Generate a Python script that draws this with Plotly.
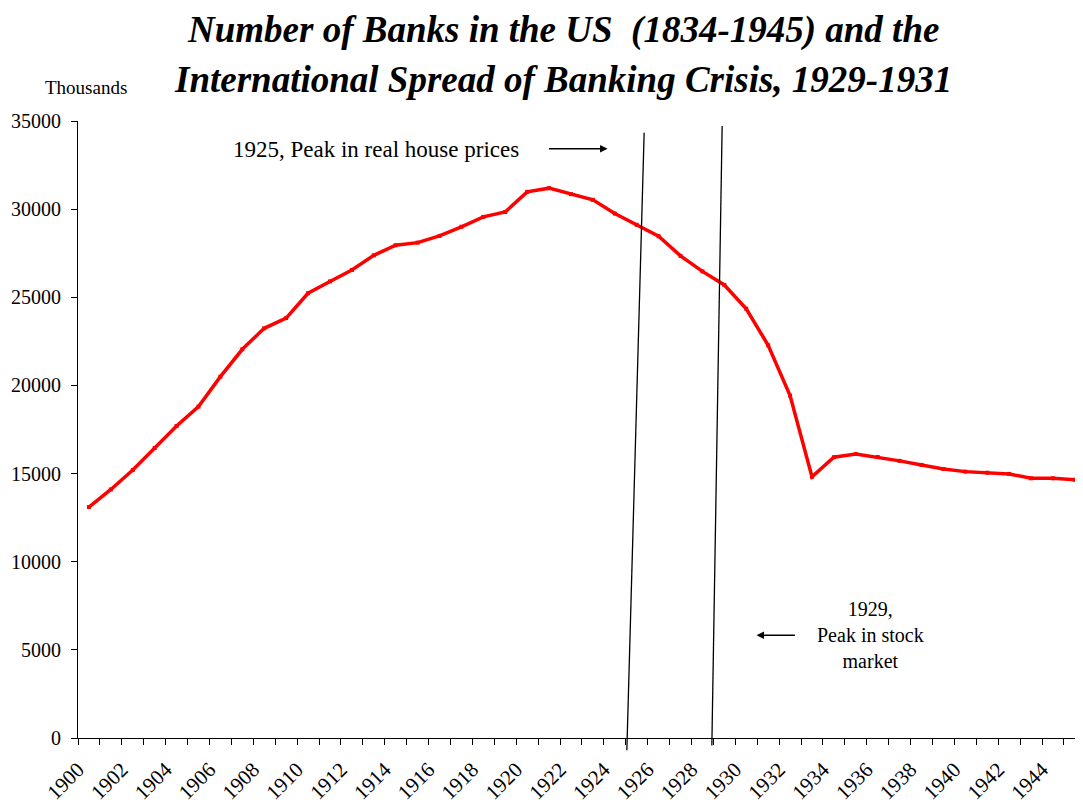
import plotly.graph_objects as go

# --- Data ---
years = list(range(1900, 1946))
banks = [13100, 14100, 15200, 16450, 17700, 18800, 20500, 22050, 23240, 23820,
         25230, 25900, 26550, 27380, 27950, 28100, 28480, 29000, 29560, 29840,
         30980, 31190, 30850, 30530, 29750, 29110, 28460, 27350, 26470, 25700,
         24350, 22280, 19420, 14820, 15930, 16110, 15940, 15720, 15490, 15260,
         15110, 15050, 14980, 14730, 14730, 14650]
label_years = list(range(1900, 1946, 2))
y_ticks = list(range(0, 35001, 5000))

# slanted marker lines: (x top, x bottom) in years, (y top, y bottom) in paper
marker_lines = [((1925.34, 1924.55), (0.981, -0.020)),
                ((1928.90, 1928.43), (0.992, -0.012))]

serif = "Liberation Serif, Times New Roman, serif"

fig = go.Figure(go.Scatter(
    x=years, y=banks, mode="lines+markers",
    line=dict(color="#ff0000", width=3.5),
    marker=dict(symbol="square", size=4, color="#ff0000"),
    showlegend=False, hoverinfo="x+y",
))

for (xt, xb), (yt, yb) in marker_lines:
    fig.add_shape(type="line", xref="x", yref="paper",
                  x0=xt, y0=yt, x1=xb, y1=yb,
                  line=dict(color="black", width=1.3))

fig.add_annotation(x=1913.09, y=33370, text="1925, Peak in real house prices",
                   showarrow=False, font=dict(family=serif, size=23, color="black"))
fig.add_annotation(x=1923.67, y=33430, ax=1920.93, ay=33430,
                   axref="x", ayref="y", text="", showarrow=True,
                   arrowhead=2, arrowsize=1, arrowwidth=1.5, arrowcolor="black")
fig.add_annotation(x=1935.67, y=5827, text="1929,<br>Peak in stock<br>market",
                   showarrow=False, font=dict(family=serif, size=20, color="black"),
                   align="center")
fig.add_annotation(x=1930.47, y=5827, ax=1932.29, ay=5827,
                   axref="x", ayref="y", text="", showarrow=True,
                   arrowhead=2, arrowsize=1, arrowwidth=1.5, arrowcolor="black")

title_font = dict(family=serif, size=37, color="black")
fig.add_annotation(xref="paper", yref="paper", x=0.4826, y=1.1835,
                   text="<b><i>Number of Banks in the US  (1834-1945) and the</i></b>",
                   showarrow=False, font=title_font, xanchor="center", yanchor="top",
                   borderpad=0)
fig.add_annotation(xref="paper", yref="paper", x=0.4826, y=1.067,
                   text="<b><i>International Spread of Banking Crisis, 1929-1931</i></b>",
                   showarrow=False, font=title_font, xanchor="center", yanchor="middle")
fig.add_annotation(xref="paper", yref="paper", x=0.0075, y=1.054,
                   text="Thousands", showarrow=False, xanchor="center", yanchor="middle",
                   font=dict(family=serif, size=19, color="black"))

# page body adds an 8px offset, so the figure is sized/margined to compensate
fig.update_layout(
    width=1075, height=795,
    margin=dict(l=70, r=0, t=113, b=65),
    paper_bgcolor="white", plot_bgcolor="white",
    font=dict(family=serif, color="black"),
    xaxis=dict(
        range=[1899.5, 1945.37], automargin=False,
        tickmode="array", tickvals=[y - 0.5 for y in label_years],
        ticktext=[str(y) for y in label_years],
        tickangle=-45, tickfont=dict(size=21), ticklabelstandoff=10,
        ticks="", showgrid=False, zeroline=False,
        showline=True, linecolor="black", linewidth=1,
        minor=dict(tickmode="linear", tick0=1899.5, dtick=1,
                   ticks="outside", ticklen=6, tickcolor="black", showgrid=False),
    ),
    yaxis=dict(
        range=[0, 35000], automargin=False,
        tickmode="array", tickvals=y_ticks, ticktext=[str(v) for v in y_ticks],
        tickfont=dict(size=20), ticks="outside", ticklen=6, tickcolor="black",
        ticklabelstandoff=6,
        showgrid=False, zeroline=False,
        showline=True, linecolor="black", linewidth=1,
    ),
)

fig.write_html("out.html")
